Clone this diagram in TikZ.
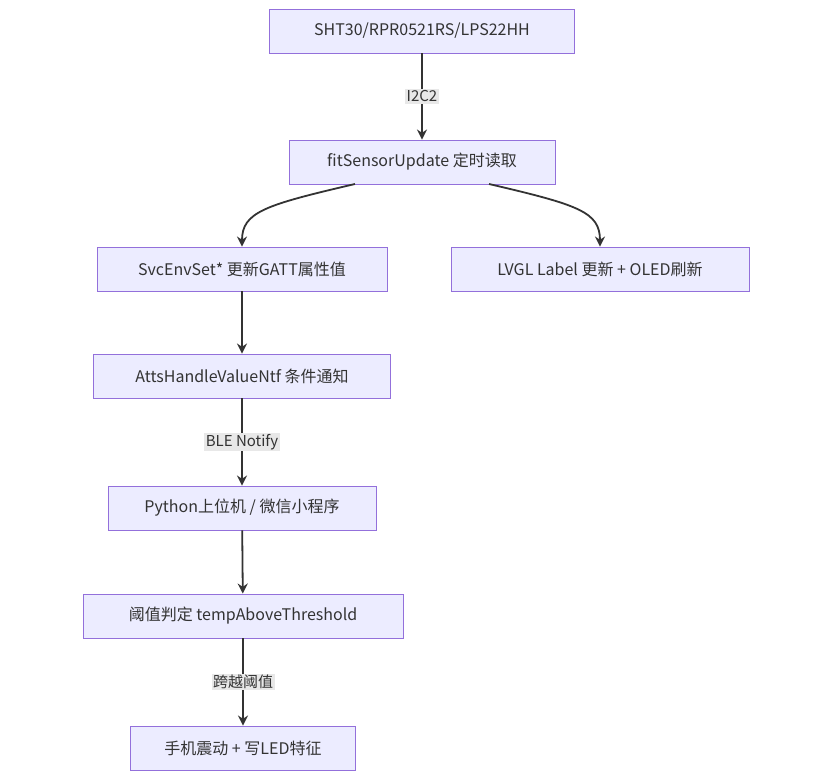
\documentclass[tikz,border=0pt]{standalone}
\usepackage{fontspec}
\setmainfont{Noto Sans CJK SC}
\usetikzlibrary{arrows.meta}
\definecolor{nf}{HTML}{ECECFF}
\definecolor{nb}{HTML}{9370DB}
\definecolor{ln}{HTML}{333333}
\definecolor{lb}{HTML}{E8E8E8}
\begin{document}
\begin{tikzpicture}[x=1pt,y=-1pt,
 box/.style={draw=nb,fill=nf,line width=0.9pt,minimum height=44pt,inner sep=0pt,font=\fontsize{16}{19}\selectfont,text=ln},
 arr/.style={draw=ln,line width=1.8pt,-{Stealth[length=10pt,width=10pt]}},
 lab/.style={fill=lb,inner sep=1.5pt,font=\fontsize{15}{18}\selectfont,text=ln}]
\useasboundingbox (0,0) rectangle (817,776);
\node[box,minimum width=305pt] (A) at (422,31) {SHT30/RPR0521RS/LPS22HH};
\node[box,minimum width=266pt] (B) at (422,162) {fitSensorUpdate 定时读取};
\node[box,minimum width=290pt] (C) at (242,269) {SvcEnvSet* 更新GATT属性值};
\node[box,minimum width=298pt] (D) at (600,269) {LVGL Label 更新 + OLED刷新};
\node[box,minimum width=297pt] (E) at (242,376) {AttsHandleValueNtf 条件通知};
\node[box,minimum width=268pt] (F) at (242,508) {Python上位机 / 微信小程序};
\node[box,minimum width=320pt] (G) at (243,616) {阈值判定 tempAboveThreshold};
\node[box,minimum width=225pt] (H) at (243,748) {手机震动 + 写LED特征};
\draw[arr] (A) -- node[lab] (l1) {I2C2} (B);
\coordinate (b1) at (355,184);
\coordinate (b2) at (489,184);
\draw[arr] (b1) .. controls (265,205) and (242,212) .. (C.north);
\draw[arr] (b2) .. controls (579,205) and (600,212) .. (D.north);
\draw[arr] (C) -- (E);
\draw[arr] (E) -- node[lab] (l2) {BLE Notify} (F);
\draw[arr] (F) -- (G);
\draw[arr] (G) -- node[lab] (l3) {跨越阈值} (H);
\end{tikzpicture}
\end{document}
